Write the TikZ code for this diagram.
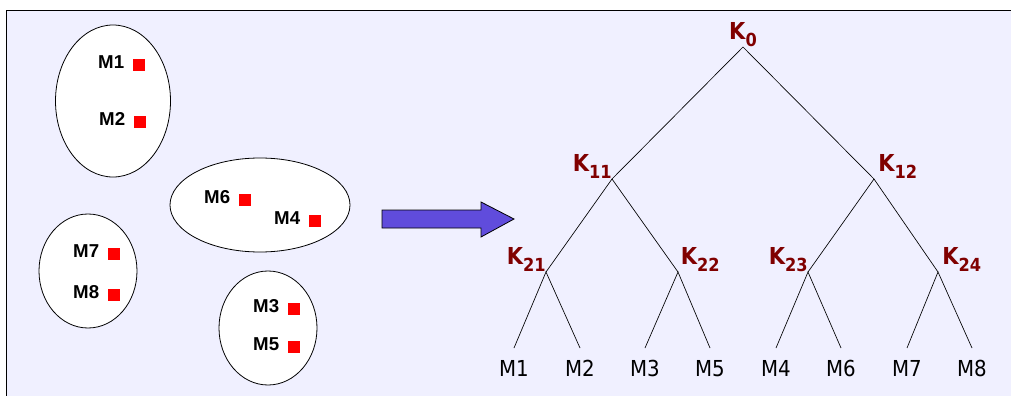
\documentclass[tikz,border=0pt]{standalone}
\usepackage{fontspec}
\setmainfont{Liberation Sans}
\newfontfamily\treefont{DejaVu Sans Condensed}
\usetikzlibrary{shapes.geometric}
\definecolor{panelbg}{RGB}{240,240,255}
\definecolor{keyred}{RGB}{128,0,0}
\definecolor{arrowblue}{RGB}{96,76,220}
\newcommand{\keylab}[1]{K\raisebox{-5.5pt}{\fontsize{13.5}{15}\selectfont #1}}

\begin{document}
\begin{tikzpicture}[
x=0.75pt, y=-0.75pt,
group/.style={ellipse, draw=black, fill=white, line width=0.6pt, inner sep=0},
msgdot/.style={rectangle, fill=red, minimum size=9.5pt, inner sep=0},
msglabel/.style={font=\fontsize{14}{15}\selectfont\bfseries, inner sep=0, xshift=-6pt, yshift=2pt},
klabel/.style={font=\treefont\bfseries\fontsize{17.5}{19}\selectfont, text=keyred, inner sep=0},
leaf/.style={font=\treefont\fontsize{16.5}{17}\selectfont, inner xsep=1pt, inner ysep=9pt, anchor=north},
edge/.style={line width=0.5pt}
]
\useasboundingbox (0,0) rectangle (1011,396);
\fill[panelbg] (6,10) rectangle (1011,396);
\draw[line width=0.75pt] (6,396) -- (6,10) -- (1011,10);

% groups of messages
\node[group, minimum width=86.25pt, minimum height=114pt] (g1) at (113,101) {};
\node[group, minimum width=135pt, minimum height=70.5pt] (g2) at (260,205) {};
\node[group, minimum width=73.5pt, minimum height=85.5pt] (g3) at (88,271) {};
\node[group, minimum width=73.5pt, minimum height=85.5pt] (g4) at (268,328) {};

\node[msgdot, label={[msglabel]left:M1}] (s1) at (139,65) {};
\node[msgdot, label={[msglabel]left:M2}] (s2) at (140,122) {};
\node[msgdot, label={[msglabel]left:M6}] (s6) at (245,200) {};
\node[msgdot, label={[msglabel]left:M4}] (s4) at (315,221) {};
\node[msgdot, label={[msglabel]left:M7}] (s7) at (114,254) {};
\node[msgdot, label={[msglabel]left:M8}] (s8) at (114,295) {};
\node[msgdot, label={[msglabel]left:M3}] (s3) at (294,309) {};
\node[msgdot, label={[msglabel]left:M5}] (s5) at (294,347) {};

% block arrow
\draw[fill=arrowblue, line width=0.6pt] (382,210) -- (481,210) -- (481,202) -- (514,219)
  -- (481,237) -- (481,228) -- (382,228) -- cycle;

% key tree
\coordinate[label={[klabel]above:\keylab{0}}] (k0) at (743,47);
\coordinate[label={[klabel]above left:\keylab{11}}] (k11) at (612,179);
\coordinate[label={[klabel, xshift=3pt]above right:\keylab{12}}] (k12) at (874,179);
\coordinate[label={[klabel]above left:\keylab{21}}] (k21) at (546,272);
\coordinate[label={[klabel, xshift=2pt]above right:\keylab{22}}] (k22) at (678,272);
\coordinate[label={[klabel]above left:\keylab{23}}] (k23) at (808,272);
\coordinate[label={[klabel, xshift=3pt]above right:\keylab{24}}] (k24) at (938,272);

\node[leaf] (m1) at (514,348) {M1};
\node[leaf] (m2) at (580,348) {M2};
\node[leaf] (m3) at (645,348) {M3};
\node[leaf] (m5) at (710,348) {M5};
\node[leaf] (m4) at (776,348) {M4};
\node[leaf] (m6) at (841,348) {M6};
\node[leaf] (m7) at (907,348) {M7};
\node[leaf] (m8) at (972,348) {M8};

\draw[edge] (k11) -- (k0) -- (k12);
\draw[edge] (k21) -- (k11) -- (k22);
\draw[edge] (k23) -- (k12) -- (k24);
\draw[edge] (m1.north) -- (k21) -- (m2.north);
\draw[edge] (m3.north) -- (k22) -- (m5.north);
\draw[edge] (m4.north) -- (k23) -- (m6.north);
\draw[edge] (m7.north) -- (k24) -- (m8.north);
\end{tikzpicture}
\end{document}
